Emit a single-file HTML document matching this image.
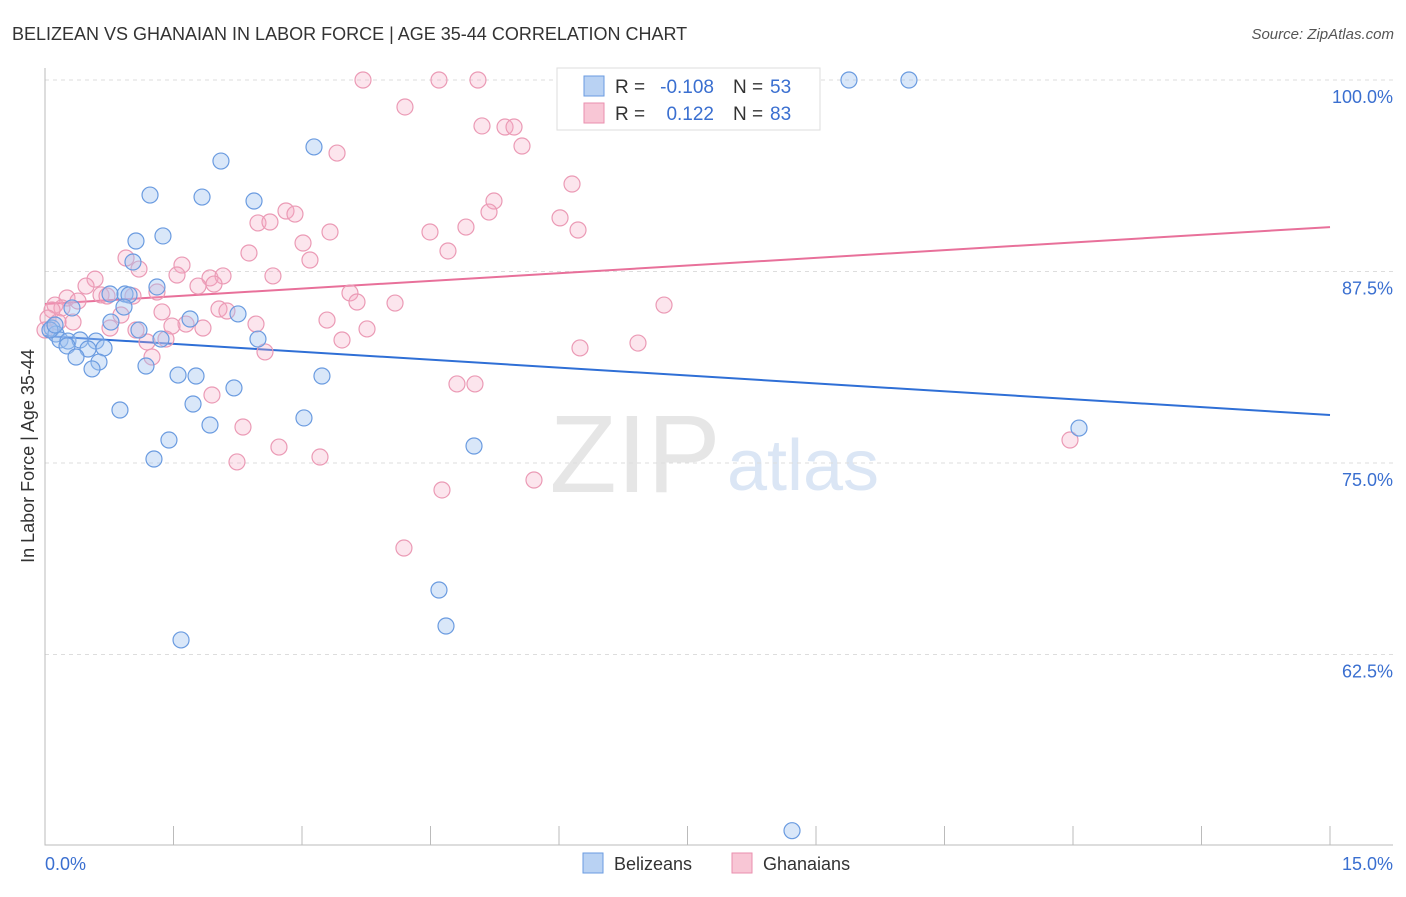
<!DOCTYPE html>
<html><head><meta charset="utf-8"><style>
body{margin:0;background:#fff;font-family:"Liberation Sans",sans-serif}
svg text{font-family:"Liberation Sans",sans-serif}
</style></head><body>
<svg width="1406" height="892" xmlns="http://www.w3.org/2000/svg">
<text x="12" y="40" font-size="18" fill="#333">BELIZEAN VS GHANAIAN IN LABOR FORCE | AGE 35-44 CORRELATION CHART</text>
<text x="1394" y="39" font-size="15" fill="#555" text-anchor="end" font-style="italic">Source: ZipAtlas.com</text>
<text transform="translate(34,456) rotate(-90)" font-size="18" fill="#333" text-anchor="middle">In Labor Force | Age 35-44</text>
<g><text x="635" y="492" font-size="110" fill="#e6e6e6" text-anchor="middle" font-family="Liberation Serif">ZIP</text><text x="803" y="490" font-size="72" fill="#dbe6f5" text-anchor="middle">atlas</text></g>
<g id="grid"></g><g id="axes"></g><g id="trend"></g><g id="pts"></g>
<g>
<rect x="557" y="68" width="263" height="62" fill="#fff" stroke="#ddd"/>
<rect x="584" y="76" width="20" height="20" fill="#b9d2f3" stroke="#6a9be0"/>
<rect x="584" y="103" width="20" height="20" fill="#f8c6d5" stroke="#ea8fae"/>
<text x="615" y="93" font-size="19" fill="#333">R =</text>
<text x="714" y="93" font-size="19" fill="#3a6fd0" text-anchor="end">-0.108</text>
<text x="733" y="93" font-size="19" fill="#333">N =</text>
<text x="770" y="93" font-size="19" fill="#3a6fd0">53</text>
<text x="615" y="120" font-size="19" fill="#333">R =</text>
<text x="714" y="120" font-size="19" fill="#3a6fd0" text-anchor="end">0.122</text>
<text x="733" y="120" font-size="19" fill="#333">N =</text>
<text x="770" y="120" font-size="19" fill="#3a6fd0">83</text>
</g>
<g>
<rect x="583" y="853" width="20" height="20" fill="#b9d2f3" stroke="#6a9be0"/>
<text x="614" y="870" font-size="18" fill="#333">Belizeans</text>
<rect x="732" y="853" width="20" height="20" fill="#f8c6d5" stroke="#ea8fae"/>
<text x="763" y="870" font-size="18" fill="#333">Ghanaians</text>
</g>
</svg>
<script>
const xTicks=[0,1.5,3,4.5,6,7.5,9,10.5,12,13.5,15];
const yTicks=[100,87.5,75,62.5];
const blueX=[9.385,10.085,3.14,2.054,1.226,1.833,2.44,1.062,1.377,1.027,1.307,0.759,0.934,0.981,0.922,1.693,2.253,0.77,1.097,0.082,0.128,0.175,0.268,0.409,0.595,1.354,2.486,0.257,0.502,0.689,0.362,0.63,0.549,1.179,1.553,1.763,2.206,3.233,0.875,1.728,3.023,1.926,1.447,5.008,1.272,12.07,4.599,4.681,1.588,8.72,0.058,0.117,0.315];
const blueY=[100,100,95.63,94.71,92.49,92.36,92.1,89.49,89.82,88.12,86.49,86.03,86.03,85.97,85.18,84.4,84.73,84.2,83.68,83.81,83.42,83.03,82.96,83.03,82.96,83.09,83.09,82.64,82.44,82.51,81.92,81.59,81.14,81.33,80.74,80.68,79.9,80.68,78.46,78.85,77.94,77.48,76.5,76.11,75.26,77.28,66.71,64.36,63.45,51.0,83.68,84.01,85.12];
const pinkX=[3.712,4.599,5.054,4.202,5.101,5.37,5.475,3.409,5.568,6.152,5.241,6.012,5.183,2.813,2.918,6.222,2.486,2.626,3.327,3.012,4.494,4.914,3.093,2.381,4.704,0.946,1.097,1.599,0.584,0.479,1.541,1.926,2.078,2.661,1.786,1.973,1.307,1.027,0.654,0.724,2.031,0.257,0.385,0.117,0.198,3.56,3.642,4.086,7.226,1.366,2.124,0.887,0.327,0.759,1.646,1.482,2.463,1.844,3.292,1.062,1.412,1.191,3.467,3.759,6.245,6.922,2.568,1.249,1.949,2.311,4.809,5.019,2.731,3.21,2.241,5.708,4.634,4.19,11.965,0.082,0.035,0.152,0.0];
const pinkY=[100,100,100,98.24,97.0,96.93,96.93,95.23,95.69,93.21,92.1,91.0,91.38,91.45,91.25,90.21,90.67,90.73,90.08,89.36,90.08,90.4,88.25,88.71,88.84,88.38,87.66,87.92,87.0,86.55,87.27,87.08,87.21,87.21,86.55,86.68,86.16,85.9,85.97,85.9,85.05,85.77,85.57,85.31,85.12,86.1,85.51,85.44,85.31,84.86,84.92,84.66,84.2,83.81,84.07,83.94,84.07,83.81,84.33,83.68,83.09,82.9,83.03,83.75,82.51,82.83,82.25,81.92,79.44,77.35,80.16,80.16,76.04,75.39,75.07,73.89,73.24,69.45,76.5,84.99,84.46,84.2,83.68];
const blueTrend=[83.29,78.13];
const pinkTrend=[85.38,90.4];
const NS="http://www.w3.org/2000/svg";
const X=v=>45+v/15*1285, Y=v=>80+(100-v)*15.32;
function mk(p,t,a){const e=document.createElementNS(NS,t);for(const k in a)e.setAttribute(k,a[k]);document.getElementById(p).appendChild(e);return e;}
yTicks.forEach(t=>{
 const l=mk('grid','line',{x1:45,x2:1393,y1:Y(t),y2:Y(t),stroke:'#ddd','stroke-dasharray':'4,4'});
 
 
 const tx=mk('grid','text',{x:1393,y:Y(t)+23,'font-size':18,fill:'#3a6fd0','text-anchor':'end'});
 tx.textContent=t.toFixed(1)+'%';
 
 
});
const ax=mk('axes','path',{d:'M45,68V845H1393',fill:'none',stroke:'#bbb'});


xTicks.forEach(t=>{
 const l=mk('axes','line',{x1:X(t),x2:X(t),y1:826,y2:845,stroke:'#bbb'});
 
 
});
[[0,'start'],[15,'end']].forEach(([t,a])=>{
 const tx=mk('axes','text',{x:t==0?45:1393,y:870,'font-size':18,fill:'#3a6fd0','text-anchor':a});
 tx.textContent=t.toFixed(1)+'%';
 
 
});
function pts(xs,ys,fill,stroke,name){xs.forEach((x,i)=>{
 const c=mk('pts','circle',{cx:X(x),cy:Y(ys[i]),r:8,fill:fill,stroke:stroke,'stroke-width':1.2});
 
 
});}
pts(pinkX,pinkY,'rgba(245,170,195,0.3)','#eb9ab5','ghanaian-point');
pts(blueX,blueY,'rgba(160,195,240,0.4)','#6a9be0','belizean-point');
const tb=mk('trend','line',{x1:X(0),x2:X(15),y1:Y(blueTrend[0]),y2:Y(blueTrend[1]),stroke:'#2f6fd6','stroke-width':2});


const tp=mk('trend','line',{x1:X(0),x2:X(15),y1:Y(pinkTrend[0]),y2:Y(pinkTrend[1]),stroke:'#e8709a','stroke-width':2});


</script>
</body></html>
